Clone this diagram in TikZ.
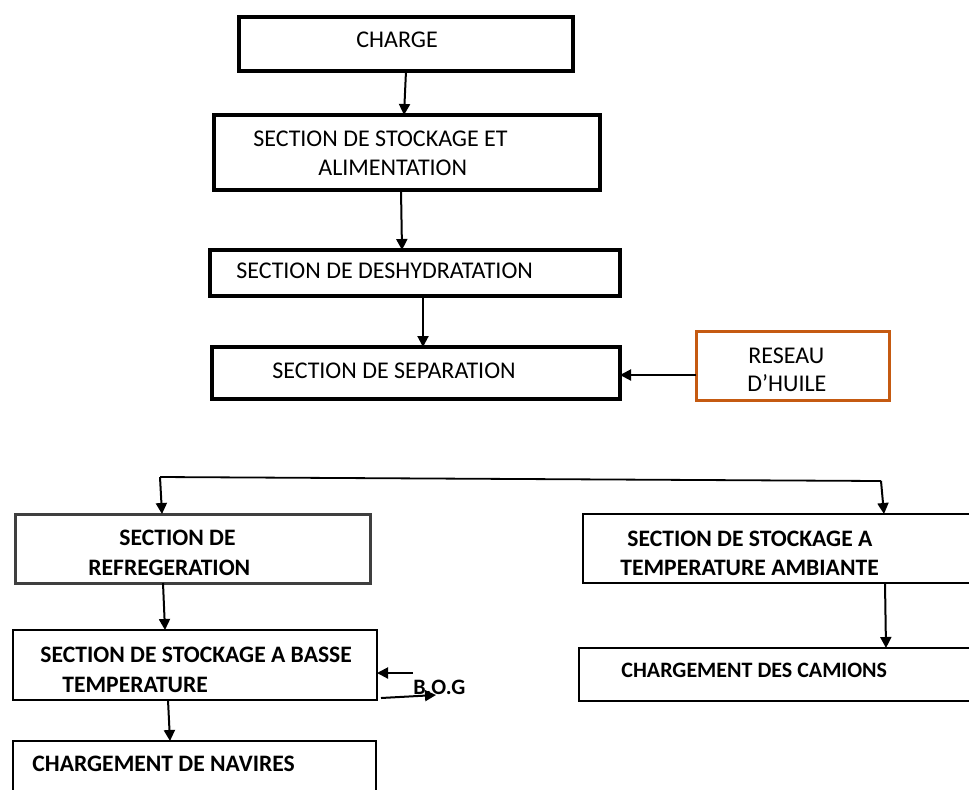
\documentclass[tikz,border=0pt]{standalone}
\usepackage{fontspec}
\setmainfont{Carlito}
\usetikzlibrary{arrows.meta}
\definecolor{rust}{HTML}{C55A11}
\definecolor{frame}{HTML}{3F3F3F}
\begin{document}
\begin{tikzpicture}[x=0.5pt,y=-0.5pt,
  box/.style 2 args={draw,minimum width={#1*0.5pt},minimum height={#2*0.5pt},inner sep=0pt,outer sep=0pt},
  heavy/.style={line width=2pt},
  plain/.style={line width=1.25pt},
  arr/.style={line width=1pt,-{Triangle[length=5.5pt,width=5.5pt]}},
  txt/.style={anchor=base west,inner sep=0pt,font=\fontsize{12}{14}\selectfont},
  btxt/.style={anchor=base west,inner sep=0pt,font=\fontsize{11.8}{14}\selectfont\bfseries},
]
\useasboundingbox (0,0) rectangle (969,789);
\clip (0,0) rectangle (969,789);
\fill[white] (0,0) rectangle (969,789);

% upper chain
\node[box={334}{54},heavy] (charge) at (406,44) {};
\node[box={386}{75},heavy] (stock) at (407,152.5) {};
\node[box={410}{46},heavy] (deshy) at (415,273) {};
\node[box={408}{52},heavy] (sep) at (416,373) {};
\node[box={193}{69},draw=rust,line width=1.5pt] (reseau) at (792.5,365.5) {};

\node[txt] (tcharge) at (356,47) {CHARGE};
\node[txt] (tstock1) at (253,146) {SECTION DE STOCKAGE ET};
\node[txt] (tstock2) at (318,175) {ALIMENTATION};
\node[txt] (tdeshy) at (236,278) {SECTION DE DESHYDRATATION};
\node[txt] (tsep) at (272,378) {SECTION DE SEPARATION};
\node[txt] (tres1) at (748,363) {RESEAU};
\node[txt] (tres2) at (747,391) {D’HUILE};

\draw[arr] (406,0 |- charge.south) -- (404,0 |- stock.north);
\draw[arr] (401,0 |- stock.south) -- (402,0 |- deshy.north);
\draw[arr] (423,0 |- deshy.south) -- (423,0 |- sep.north);
\draw[arr] (reseau.west |- 0,375) -- (sep.east |- 0,375);

% lower branches
\node[box={355}{69},draw=frame,line width=1.5pt] (refr) at (192.5,548.5) {};
\node[box={364}{70},plain] (basse) at (195,665) {};
\node[box={363}{78},plain] (nav) at (194.5,780) {};
\node[box={417}{69},plain] (amb) at (791.5,548.5) {};
\node[box={421}{53},plain] (cam) at (789.5,674.5) {};

\node[btxt] (trefr1) at (119,545) {SECTION DE};
\node[btxt] (trefr2) at (88,575) {REFREGERATION};
\node[btxt] (tbasse1) at (40,662) {SECTION DE STOCKAGE A BASSE};
\node[btxt] (tbasse2) at (62,692) {TEMPERATURE};
\node[btxt] (tnav) at (32,771) {CHARGEMENT DE NAVIRES};
\node[btxt] (tamb1) at (627,546) {SECTION DE STOCKAGE A};
\node[btxt] (tamb2) at (620,575) {TEMPERATURE AMBIANTE};
\node[btxt,font=\fontsize{11}{14}\selectfont\bfseries] (tcam) at (621,677) {CHARGEMENT DES CAMIONS};
\node[anchor=base west,inner sep=0pt,font=\fontsize{11}{12}\selectfont\bfseries] (tbog) at (413,694) {B.O.G};

\coordinate (splitL) at (160,477);
\coordinate (splitR) at (881,481);
\draw[line width=0.9pt] (splitL) -- (splitR);
\draw[arr] (splitL) -- (162,0 |- refr.north);
\draw[arr] (splitR) -- (884,0 |- amb.north);

\draw[arr] (163,0 |- refr.south) -- (165,0 |- basse.north);
\draw[arr] (168,0 |- basse.south) -- (170,0 |- nav.north);
\draw[arr] (885,0 |- amb.south) -- (886,0 |- cam.north);

\coordinate (bogin) at (413,673);
\coordinate (bogout) at (436,695);
\draw[arr] (bogin) -- (basse.east |- bogin);
\draw[arr] ([xshift=2pt]basse.east |- 0,698) -- (bogout);
\end{tikzpicture}
\end{document}
